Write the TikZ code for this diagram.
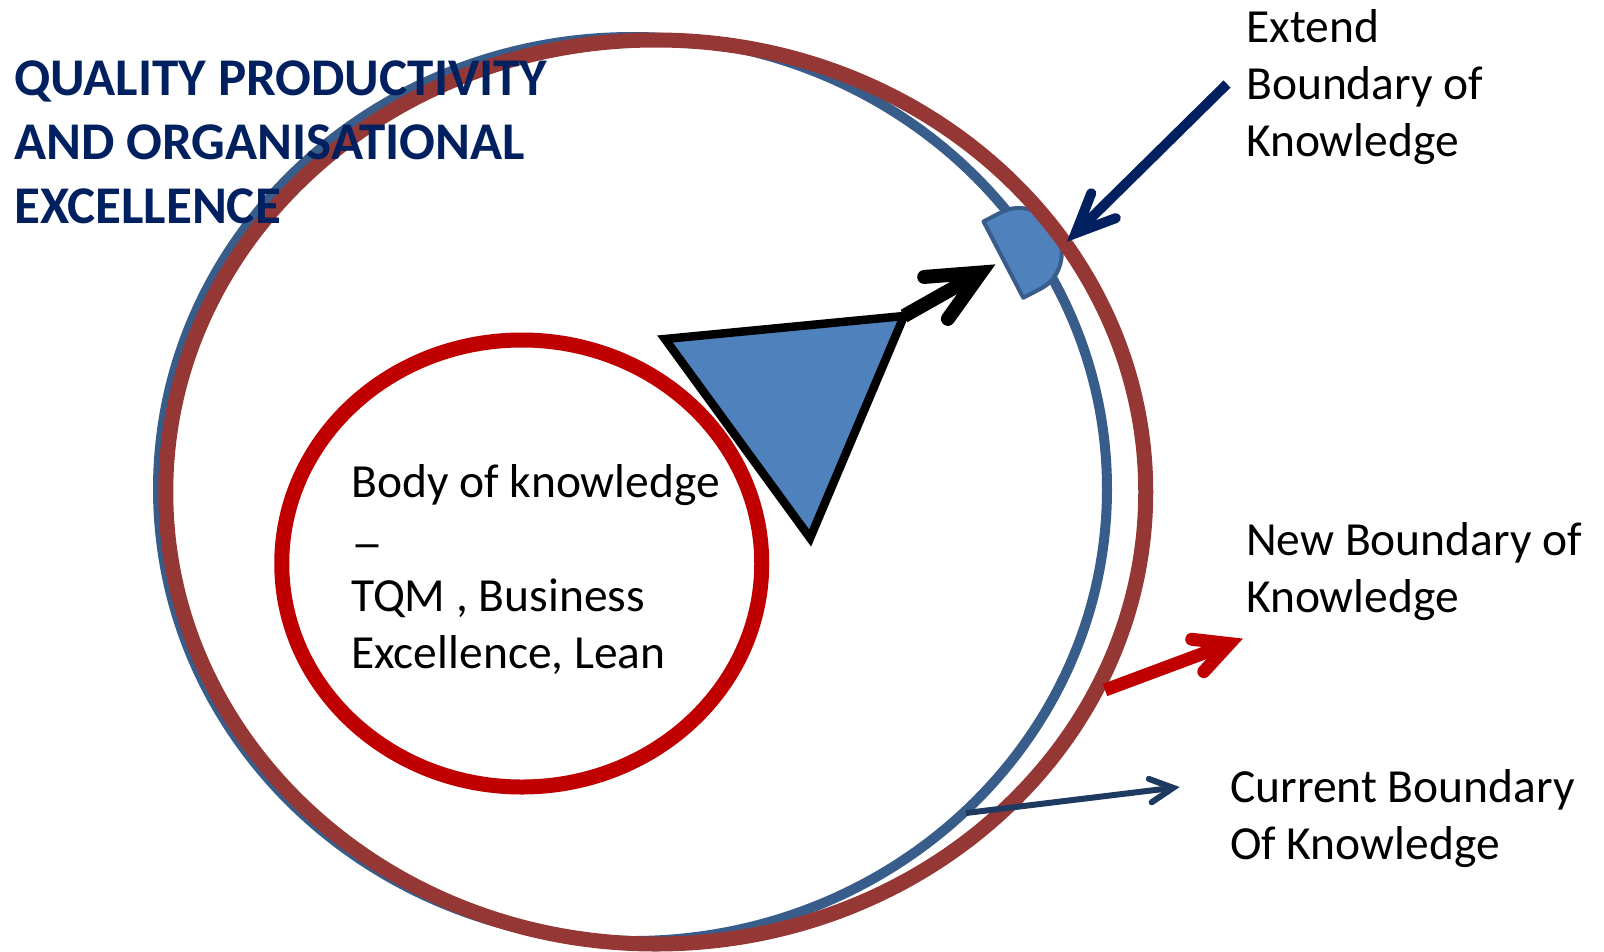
\documentclass[tikz,border=0pt]{standalone}
\usepackage{fontspec}
\setmainfont{Carlito}
\usetikzlibrary{shapes.geometric,calc}
\definecolor{curblue}{HTML}{385D8A}
\definecolor{newred}{HTML}{953735}
\definecolor{bodyred}{HTML}{C00000}
\definecolor{fillblue}{HTML}{4F81BD}
\definecolor{navy}{HTML}{002060}
\definecolor{curarrow}{HTML}{1F3A60}
\newcommand{\lines}[1]{\begin{tabular}[t]{@{}l@{}}#1\end{tabular}}
\begin{document}
\begin{tikzpicture}[x=1pt,y=-1pt,
  lbl/.style={anchor=base west, inner sep=0pt, font=\fontsize{47.5}{57}\selectfont},
  ttl/.style={anchor=base west, inner sep=0pt, text=navy, font=\fontsize{53}{64}\selectfont\bfseries},
  ring/.style={ellipse, inner sep=0pt, outer sep=0pt},
  head/.style={line cap=round, line join=miter}]
\useasboundingbox (0,0) rectangle (1604,951);
% current boundary
\node[ring, draw=curblue, line width=10pt, minimum width=949pt, minimum height=904pt] (cur) at (632.5,489) {};
% extension piece
\begin{scope}[shift={(983.5,221.5)}, rotate=27.55]
\draw[fill=fillblue, draw=curblue, line width=4pt, line join=round]
  (0,0) -- (20,0) .. controls (42.1,0) and (60,19.25) .. (60,43)
  .. controls (60,66.75) and (42.1,86) .. (20,86) -- (0,86) -- cycle;
\end{scope}
% new boundary
\node[ring, draw=newred, line width=15pt, minimum width=980pt, minimum height=904pt] (new) at (655.75,492) {};
% body of knowledge
\node[ring, draw=bodyred, line width=15pt, minimum width=480pt, minimum height=447pt] (body) at (521.75,563.5) {};
% triangle
\coordinate (t1) at (665,339);
\coordinate (t2) at (904,316);
\coordinate (t3) at (810.1,538);
\draw[fill=fillblue, line width=8.5pt, line join=miter] (t1) -- (t2) -- (t3) -- cycle;
% black arrow
\coordinate (bT) at (981,272.5);
\draw[line width=14pt] (t2) -- (bT);
\draw[head, line width=14pt] ($(bT)!57pt!25:(t2)$) -- (bT) -- ($(bT)!57pt!-25:(t2)$);
% extend arrow
\coordinate (eS) at (1227,84);
\coordinate (eT) at (1075.6,233.2);
\draw[navy, line width=10pt] (eS) -- (eT);
\draw[navy, head, line width=10pt] ($(eT)!43pt!24:(eS)$) -- (eT) -- ($(eT)!43pt!-24:(eS)$);
% new boundary arrow
\coordinate (nS) at (1105,690);
\coordinate (nT) at (1229.5,643.6);
\draw[bodyred, line width=13pt] (nS) -- (nT);
\draw[bodyred, head, line width=13pt] ($(nT)!38pt!27:(nS)$) -- (nT) -- ($(nT)!38pt!-27:(nS)$);
% current boundary arrow
\coordinate (cS) at (966,813);
\coordinate (cT) at (1173.2,787.8);
\draw[curarrow, line width=6pt] (cS) -- (cT);
\draw[curarrow, head, line width=6pt] ($(cT)!26pt!27:(cS)$) -- (cT) -- ($(cT)!26pt!-27:(cS)$);
% texts
\node[ttl] (title) at (14,95) {\lines{QUALITY PRODUCTIVITY\\AND ORGANISATIONAL\\EXCELLENCE}};
\node[lbl] (bodytxt) at (351,497) {\lines{Body of knowledge\\\raisebox{-5pt}{\scalebox{1.35}[1]{–}}\\TQM , Business\\Excellence, Lean}};
\node[lbl] (exttxt) at (1246,42) {\lines{Extend\\Boundary of\\Knowledge}};
\node[lbl] (newtxt) at (1246,555) {\lines{New Boundary of\\Knowledge}};
\node[lbl] (curtxt) at (1230,802) {\lines{Current Boundary\\Of Knowledge}};
\end{tikzpicture}
\end{document}
